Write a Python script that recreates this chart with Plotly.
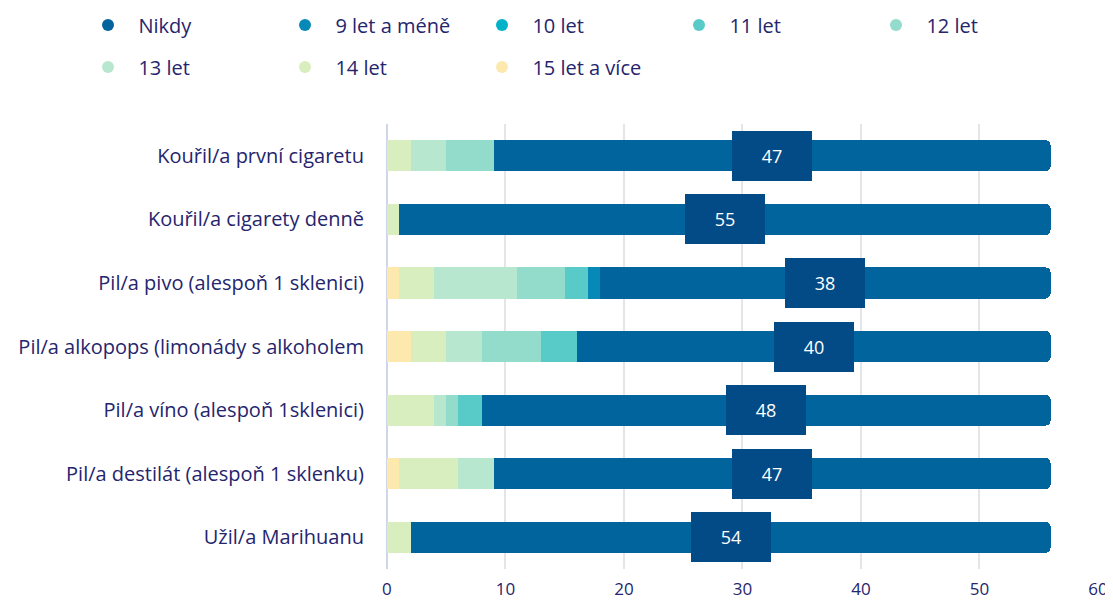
import plotly.graph_objects as go

categories = [
    "Kouřil/a první cigaretu",
    "Kouřil/a cigarety denně",
    "Pil/a pivo (alespoň 1 sklenici)",
    "Pil/a alkopops (limonády s alkoholem",
    "Pil/a víno (alespoň 1sklenici)",
    "Pil/a destilát (alespoň 1 sklenku)",
    "Užil/a Marihuanu",
]

series_names = ["Nikdy", "9 let a méně", "10 let", "11 let", "12 let", "13 let", "14 let", "15 let a více"]

nikdy = [47, 55, 38, 40, 48, 47, 54]
let9 = [0, 0, 1, 0, 0, 0, 0]
let10 = [0, 0, 0, 0, 0, 0, 0]
let11 = [0, 0, 2, 3, 2, 0, 0]
let12 = [4, 0, 4, 5, 1, 0, 0]
let13 = [3, 0, 7, 3, 1, 3, 0]
let14 = [2, 1, 3, 3, 4, 5, 2]
let15 = [0, 0, 1, 2, 0, 1, 0]

colors = ["#02649c", "#0789b8", "#00b2c8", "#58cbc8", "#93dccb", "#b7e7cf", "#d9eebe", "#fde9ae"]
values = [nikdy, let9, let10, let11, let12, let13, let14, let15]

text_color = "#25256e"
font_family = "Open Sans, Roboto, sans-serif"

fig = go.Figure()

# Stack from the left: 15 let first ... Nikdy last
for name, vals, col in reversed(list(zip(series_names, values, colors))):
    fig.add_trace(go.Bar(
        y=categories, x=vals, name=name, orientation="h",
        marker=dict(color=col, line=dict(width=0)),
        showlegend=False, hoverinfo="x+name",
    ))

# Legend entries with circle markers (two legend rows)
for i, (name, col) in enumerate(zip(series_names, colors)):
    fig.add_trace(go.Scatter(
        x=[None], y=[None], mode="markers", name="\u00a0\u00a0" + name,
        marker=dict(color=col, size=18, symbol="circle"),
        showlegend=True, legend="legend" if i < 5 else "legend2",
    ))

# Value boxes on Nikdy segments
for cat, n, *rest in zip(categories, nikdy, let9, let10, let11, let12, let13, let14, let15):
    start = sum(rest)
    fig.add_annotation(
        x=start + n / 2, y=cat, xref="x", yref="y",
        text=str(n), showarrow=False,
        font=dict(color="white", size=18, family=font_family),
        bgcolor="#034b86", bordercolor="#034b86", borderwidth=1,
        width=70, height=40, borderpad=4,
    )

legend_common = dict(
    orientation="h", xref="paper", yref="container",
    xanchor="left", yanchor="middle",
    entrywidth=152, entrywidthmode="pixels",
    font=dict(size=20, color=text_color, family=font_family),
    itemsizing="constant", traceorder="normal",
    bgcolor="rgba(0,0,0,0)",
)

fig.update_layout(
    width=1113, height=603,
    barmode="stack", bargap=0.51, barcornerradius=5,
    plot_bgcolor="white", paper_bgcolor="white",
    margin=dict(l=80, r=23, t=116, b=42),
    font=dict(family=font_family, color=text_color, size=17),
    legend=dict(legend_common, x=0, y=0.9718),
    legend2=dict(legend_common, x=0, y=0.9022),
    xaxis=dict(
        domain=[0.296, 1],
        range=[0, 60], dtick=10, showgrid=True, gridcolor="#e5e5e8", gridwidth=1.5,
        zeroline=True, zerolinecolor="#cfd5ea", zerolinewidth=1.5,
        tickfont=dict(size=17, color=text_color), fixedrange=True,
        automargin=False, ticklabelstandoff=8,
    ),
    yaxis=dict(
        autorange="reversed", showgrid=False, automargin=False,
        tickfont=dict(size=20, color=text_color), ticklabelstandoff=22,
    ),
)

fig.write_html("out.html")
